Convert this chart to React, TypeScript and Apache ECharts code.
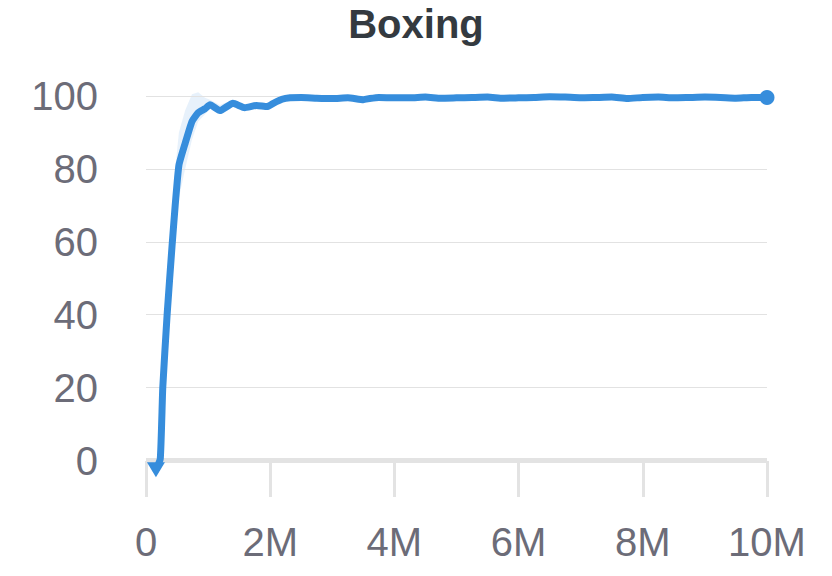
import React, { useEffect, useRef } from "react";
import * as echarts from "echarts";

const steps = [0.16, 0.23, 0.27, 0.34, 0.42, 0.47, 0.53, 0.63, 0.74, 0.84, 0.95, 1.03, 1.19, 1.4, 1.59, 1.78, 1.95, 2.05, 2.19, 2.32, 2.5, 2.75, 3.0, 3.25, 3.5, 3.6, 3.75, 4.0, 4.25, 4.5, 4.75, 5.0, 5.25, 5.5, 5.75, 6.0, 6.25, 6.5, 6.75, 7.0, 7.25, 7.5, 7.75, 8.0, 8.25, 8.5, 8.75, 9.0, 9.25, 9.5, 9.75, 10.0];
const meanValues = [-2.5, 0.5, 20, 40, 59, 70, 81, 87, 93, 95.4, 96.5, 97.6, 96, 98, 96.8, 97.4, 97.1, 98, 99.1, 99.5, 99.6, 99.4, 99.3, 99.5, 99.0, 99.3, 99.6, 99.5, 99.5, 99.7, 99.4, 99.5, 99.6, 99.7, 99.4, 99.5, 99.6, 99.8, 99.7, 99.5, 99.6, 99.7, 99.3, 99.6, 99.7, 99.5, 99.6, 99.7, 99.6, 99.4, 99.6, 99.6];
const lowerValues = [-4, -1, 15, 33, 50, 62, 72, 80, 88, 93, 95, 96.5, 95, 97, 96, 96.8, 96.6, 97.5, 98.8, 99.2, 99.3, 99.1, 99.0, 99.2, 98.7, 99.0, 99.3, 99.2, 99.2, 99.4, 99.1, 99.2, 99.3, 99.4, 99.1, 99.2, 99.3, 99.5, 99.4, 99.2, 99.3, 99.4, 98.9, 99.3, 99.4, 99.2, 99.3, 99.4, 99.3, 99.1, 99.3, 99.3];
const upperValues = [-1, 2, 25, 47, 68, 80, 90, 96, 100.5, 101, 99.5, 99, 97.5, 99, 97.6, 98, 97.6, 98.5, 99.4, 99.8, 99.9, 99.7, 99.6, 99.8, 99.3, 99.6, 99.9, 99.8, 99.8, 100, 99.7, 99.8, 99.9, 100, 99.7, 99.8, 99.9, 100.1, 100, 99.8, 99.9, 100, 99.7, 99.9, 100, 99.8, 99.9, 100, 99.9, 99.7, 99.9, 99.9];
const yTickValues = [0, 20, 40, 60, 80, 100];
const gridValues = [20, 40, 60, 80, 100];

const LINE_COLOR = "#368ddc";
const LABEL_COLOR = "#6c6c78";
const FONT = "Liberation Sans, Arial, sans-serif";

export default function App() {
  const ref = useRef<HTMLDivElement>(null);
  useEffect(() => {
    if (!ref.current) return;
    const chart = echarts.init(ref.current, undefined, { renderer: "svg" });
    const xs = steps.map((s) => s * 1e6);
    const meanData = xs.map((x, i) => {
      if (i === 0) {
        return { value: [x, meanValues[i]], symbol: "triangle", symbolSize: [18, 15], symbolRotate: 180 };
      }
      if (i === xs.length - 1) {
        return { value: [x, meanValues[i]], symbol: "circle", symbolSize: 15 };
      }
      return { value: [x, meanValues[i]], symbol: "none" };
    });
    const bandData = xs.map((x, i) => [x, lowerValues[i], upperValues[i]]);
    chart.setOption({
      animation: false,
      title: {
        text: "Boxing",
        left: "center",
        top: -1,
        textStyle: { fontFamily: FONT, fontSize: 40, fontWeight: "bold", color: "#343a40" },
      },
      grid: { left: 146, right: 65, top: 96, bottom: 79 },
      xAxis: {
        type: "value",
        min: 0,
        max: 10e6,
        interval: 2e6,
        axisLine: { show: false, onZero: false },
        axisTick: { show: true, inside: true, length: 36, lineStyle: { color: "#e3e3e3", width: 3 } },
        splitLine: { show: false },
        axisLabel: {
          margin: 25,
          fontFamily: FONT,
          fontSize: 40,
          color: LABEL_COLOR,
          formatter: (v: number) => (v === 0 ? "0" : v / 1e6 + "M"),
        },
      },
      yAxis: {
        type: "value",
        min: -10,
        max: 100,
        interval: 10,
        axisLine: { show: false },
        axisTick: { show: false },
        splitLine: { show: false },
        axisLabel: {
          margin: 48,
          fontFamily: FONT,
          fontSize: 40,
          color: LABEL_COLOR,
          formatter: (v: number) => (yTickValues.indexOf(v) >= 0 ? String(v) : ""),
        },
      },
      series: [
        {
          type: "custom",
          silent: true,
          z: 1,
          data: [0],
          renderItem: (params: any, api: any) => {
            const top = bandData.map((d) => api.coord([d[0], d[2]]));
            const bottom = bandData.map((d) => api.coord([d[0], d[1]])).reverse();
            return {
              type: "polygon",
              shape: { points: top.concat(bottom) },
              style: { fill: "rgba(54,141,220,0.12)" },
            };
          },
        },
        {
          type: "line",
          data: [],
          symbol: "none",
          silent: true,
          z: 0,
          markLine: {
            silent: true,
            symbol: "none",
            label: { show: false },
            data: [
              ...gridValues.map((v) => ({ yAxis: v, lineStyle: { color: "#e2e2e2", width: 1, type: "solid" } })),
              { yAxis: 0, lineStyle: { color: "#e3e3e3", width: 5, type: "solid" } },
            ],
          },
        },
        {
          type: "line",
          data: meanData,
          showSymbol: true,
          symbol: "none",
          smooth: 0.15,
          lineStyle: { color: LINE_COLOR, width: 7, join: "round", cap: "round" },
          itemStyle: { color: LINE_COLOR },
          z: 5,
        },
      ],
    });
    return () => chart.dispose();
  }, []);
  return <div ref={ref} style={{ width: 832, height: 576, position: "absolute", left: 0, top: 0 }} />;
}
